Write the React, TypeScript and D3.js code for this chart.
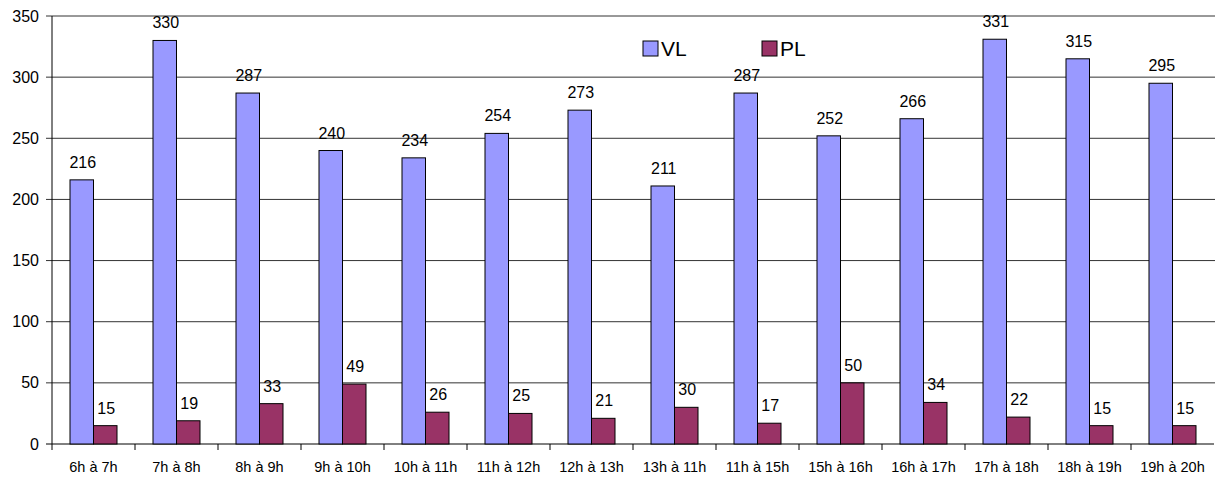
import React from "react";
import * as d3 from "d3";

const categories = ["6h à 7h","7h à 8h","8h à 9h","9h à 10h","10h à 11h","11h à 12h","12h à 13h","13h à 11h","11h à 15h","15h à 16h","16h à 17h","17h à 18h","18h à 19h","19h à 20h"];
const vlValues = [216,330,287,240,234,254,273,211,287,252,266,331,315,295];
const plValues = [15,19,33,49,26,25,21,30,17,50,34,22,15,15];
const yTicks = [0,50,100,150,200,250,300,350];
const seriesNames = ["VL","PL"];
const seriesColors = ["#9999FF","#993366"];

export default function App() {
  const W = 1215, H = 477;
  const left = 52, right = 1214, top = 16, bottom = 444;
  const x = d3.scaleBand<string>().domain(categories).range([left, right]);
  const y = d3.scaleLinear().domain([0, 350]).range([bottom, top]);
  const bw = 23.5;
  const font = "'Liberation Sans', Arial, sans-serif";
  const series = [vlValues, plValues];

  return (
    <svg width={W} height={H} style={{ position: "absolute", left: 0, top: 0, background: "#fff" }} fontFamily={font}>
      {yTicks.map((t) => (
        <g key={t}>
          <line x1={left - 6} x2={t === 0 ? right : W} y1={y(t)} y2={y(t)} stroke={t === 0 ? "#000" : "#333"} strokeWidth={1} />
          <text x={39} y={y(t) + 5.5} textAnchor="end" fontSize={16} fill="#000">{t}</text>
        </g>
      ))}
      <line x1={left} x2={left} y1={top} y2={bottom} stroke="#000" />
      {categories.map((c, i) => (
        <line key={"t" + i} x1={x(c)!} x2={x(c)!} y1={bottom} y2={bottom + 6} stroke="#000" />
      ))}
      {categories.map((c, i) => {
        const bx = x(c)! + (x.bandwidth() - 2 * bw) / 2;
        return (
          <g key={c}>
            {series.map((vals, s) => (
              <g key={s}>
                <rect x={bx + s * bw} y={y(vals[i])} width={bw} height={bottom - y(vals[i])} fill={seriesColors[s]} stroke="#000" strokeWidth={1} />
                <text x={bx + s * bw + bw / 2 + 1} y={y(vals[i]) - 12} textAnchor="middle" fontSize={16} fill="#000">{vals[i]}</text>
              </g>
            ))}
            <text x={x(c)! + x.bandwidth() / 2} y={472} textAnchor="middle" fontSize={14.5} fill="#000">{c}</text>
          </g>
        );
      })}
      {seriesNames.map((n, s) => {
        const lx = 643 + s * 119;
        return (
          <g key={n}>
            <rect x={lx} y={41} width={15} height={15} fill={seriesColors[s]} stroke="#000" />
            <text x={lx + 18} y={56} fontSize={21} fill="#000">{n}</text>
          </g>
        );
      })}
    </svg>
  );
}
